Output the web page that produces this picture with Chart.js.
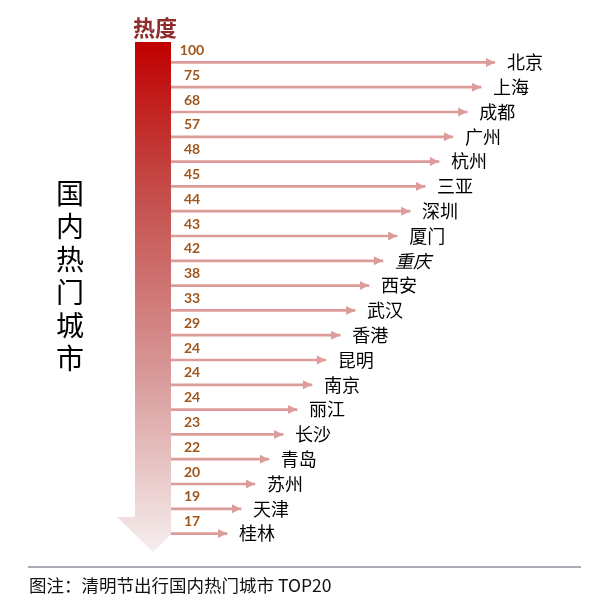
<!DOCTYPE html>
<html>
<head>
<meta charset="utf-8">
<script src="https://cdn.jsdelivr.net/npm/chart.js@4"></script>
<style>
  html, body { margin: 0; padding: 0; background: #fff; }
  #wrap { width: 604px; height: 606px; position: relative; }
</style>
</head>
<body>
<div id="wrap"><canvas id="chart" width="604" height="606"></canvas></div>
<script>
// Data
const cities = ['北京', '上海', '成都', '广州', '杭州', '三亚', '深圳', '厦门', '重庆', '西安',
                '武汉', '香港', '昆明', '南京', '丽江', '长沙', '青岛', '苏州', '天津', '桂林'];
const heat = [100, 75, 68, 57, 48, 45, 44, 43, 42, 38, 33, 29, 24, 24, 24, 23, 22, 20, 19, 17];
// arrow lengths as drawn (北京 = 100), they shrink evenly by rank, not by heat
const arrowLen = [100, 95.7, 91.4, 87.0, 82.7, 78.4, 73.8, 69.8, 65.4, 61.1,
                  56.8, 52.2, 47.8, 43.5, 38.9, 34.6, 30.2, 25.9, 21.6, 17.3];
const italicCities = ['重庆'];

const title = '热度';
const sideTitle = '国内热门城市';
const caption = '图注：清明节出行国内热门城市 TOP20';

const CJK = '"Noto Sans CJK SC", "Noto Sans", sans-serif';
const ARROW = '#dc9c9a';

// Big gradient arrow, titles and caption
const decor = {
    id: 'decor',
    beforeDatasetsDraw(chart) {
        const ctx = chart.ctx;
        const left = chart.chartArea.left;
        ctx.save();
        const g = ctx.createLinearGradient(0, 42, 0, 552);
        g.addColorStop(0, 'rgb(192,0,0)');
        g.addColorStop(0.3, 'rgb(196,78,75)');
        g.addColorStop(0.65, 'rgb(216,152,152)');
        g.addColorStop(1, 'rgb(246,238,238)');
        ctx.fillStyle = g;
        ctx.beginPath();
        ctx.rect(0, 0, left, 606);
        ctx.clip();
        ctx.beginPath();
        ctx.moveTo(135, 42);
        ctx.lineTo(171, 42);
        ctx.lineTo(171, 517);
        ctx.lineTo(189, 517);
        ctx.lineTo(153, 552);
        ctx.lineTo(117, 517);
        ctx.lineTo(135, 517);
        ctx.closePath();
        ctx.fill();
        ctx.restore();

        ctx.save();
        ctx.fillStyle = '#8e2c2c';
        ctx.font = 'bold 22px ' + CJK;
        ctx.textAlign = 'center';
        ctx.textBaseline = 'middle';
        ctx.fillText(title, 155, 28);

        ctx.fillStyle = '#000';
        ctx.font = '28px ' + CJK;
        [...sideTitle].forEach((ch, i) => ctx.fillText(ch, 70, 193 + i * 33));

        ctx.strokeStyle = '#a8aeb4';
        ctx.lineWidth = 2;
        ctx.beginPath();
        ctx.moveTo(28, 567);
        ctx.lineTo(581, 567);
        ctx.stroke();

        ctx.fillStyle = '#111';
        ctx.font = '17.5px ' + CJK;
        ctx.textAlign = 'left';
        ctx.fillText(caption, 29, 585);
        ctx.restore();
    },
    afterDatasetsDraw(chart) {
        const ctx = chart.ctx;
        const meta = chart.getDatasetMeta(0);
        ctx.save();
        meta.data.forEach((bar, i) => {
            // arrow head
            ctx.fillStyle = ARROW;
            ctx.beginPath();
            ctx.moveTo(bar.x, bar.y);
            ctx.lineTo(bar.x - 9, bar.y - 4.5);
            ctx.lineTo(bar.x - 9, bar.y + 4.5);
            ctx.closePath();
            ctx.fill();

            // heat value
            ctx.fillStyle = '#a0561a';
            ctx.font = 'bold 14px Lato, "Open Sans", sans-serif';
            ctx.textAlign = 'center';
            ctx.textBaseline = 'middle';
            ctx.fillText(heat[i], chart.chartArea.left + 21, bar.y - 12);

            // city name
            ctx.fillStyle = '#000';
            ctx.font = (italicCities.includes(cities[i]) ? 'italic ' : '') + '18px ' + CJK;
            ctx.textAlign = 'left';
            ctx.fillText(cities[i], bar.x + 12, bar.y);
        });
        ctx.restore();
    }
};

new Chart(document.getElementById('chart'), {
    type: 'bar',
    data: {
        labels: cities,
        datasets: [{
            label: '热度',
            data: arrowLen,
            backgroundColor: ARROW,
            borderWidth: 0,
            barThickness: 2
        }]
    },
    options: {
        indexAxis: 'y',
        responsive: false,
        animation: false,
        layout: { padding: { left: 171, right: 109, top: 50, bottom: 60 } },
        scales: {
            x: { display: false, min: 0, max: 100 },
            y: { display: false }
        },
        plugins: {
            legend: { display: false },
            tooltip: { enabled: false }
        }
    },
    plugins: [decor]
});
</script>
</body>
</html>
